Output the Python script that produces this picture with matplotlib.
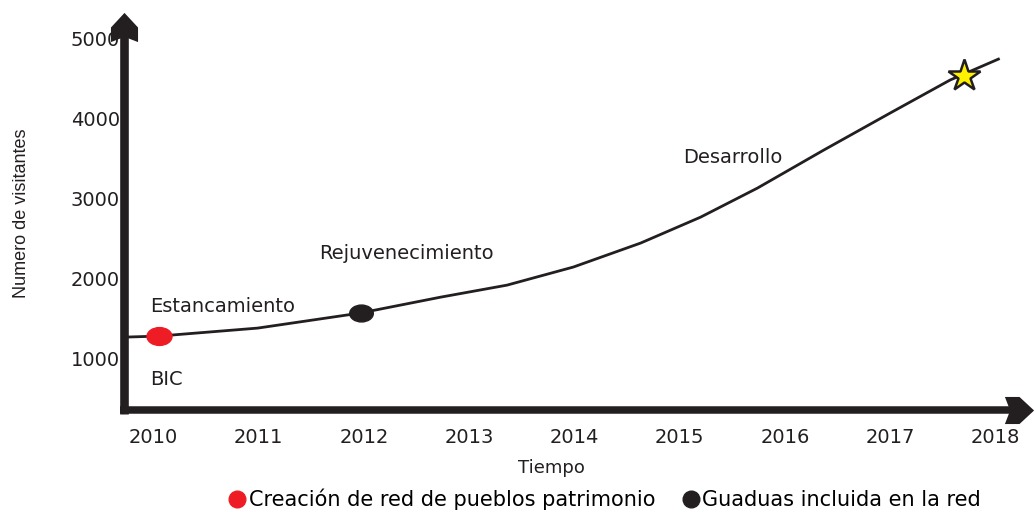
import numpy as np
import matplotlib.pyplot as plt
from matplotlib.lines import Line2D
from matplotlib.path import Path
from matplotlib.transforms import Affine2D

plt.rcParams['font.family'] = ['DejaVu Sans']

# curve
years = [2009.72, 2010.05, 2010.99, 2011.96, 2012.73, 2013.36, 2013.99,
         2014.63, 2015.20, 2015.74, 2016.37, 2017.00, 2017.57, 2018.03]
visitors = [1262, 1275, 1375, 1562, 1762, 1912, 2138,
            2438, 2762, 3125, 3600, 4062, 4475, 4737]

red_point = (2010.05, 1275)
black_point = (2011.97, 1562)
star_point = (2017.70, 4530)

xticks = [2010, 2011, 2012, 2013, 2014, 2015, 2016, 2017, 2018]
yticks = [1000, 2000, 3000, 4000, 5000]

phases = ['Estancamiento', 'BIC', 'Rejuvenecimiento', 'Desarrollo']
phase_pos = [(2009.97, 1650), (2009.97, 737), (2011.57, 2312), (2015.03, 3512)]

legend_labels = ['Creación de red de pueblos patrimonio', 'Guaduas incluida en la red']
legend_colors = ['#ee1c25', '#231f20']
ink = '#231f20'

# flattened circle marker like the picture's dots
oval = Path.unit_circle().transformed(Affine2D().scale(1.4, 1.0))
# notched arrow head, pointing up
head_up = Path([(0, 14), (13, 0), (13, -14), (0, -9), (-13, -14), (-13, 0), (0, 14)],
               closed=True)
head_right = head_up.transformed(Affine2D().rotate_deg(-90))

fig = plt.figure(figsize=(10.36, 5.12), dpi=100)
ax = fig.add_axes([0.1197, 0.199, 0.8745, 0.772])
ax.set_xlim(2009.72, 2018.33)
ax.set_ylim(350, 5290)
for s in ax.spines.values():
    s.set_visible(False)

ax.plot(years, visitors, color=ink, lw=2, solid_joinstyle='round', zorder=3)
ax.plot(*red_point, marker=oval, ls='none', color=legend_colors[0], ms=18, zorder=4)
ax.plot(*black_point, marker=oval, ls='none', color=legend_colors[1], ms=17, zorder=4)
ax.plot(*star_point, '*', color='#fff200', mec=ink, mew=1.8, ms=24, zorder=5)

# thick arrow axes
ax.plot([0, 0], [-0.009, 0.965], transform=ax.transAxes, color=ink, lw=6.2,
        solid_capstyle='butt', clip_on=False, zorder=6)
ax.plot([-0.0045, 0.985], [0, 0], transform=ax.transAxes, color=ink, lw=5.4,
        solid_capstyle='butt', clip_on=False, zorder=6)
ax.plot([0], [0.9696], marker=head_up, ms=21, color=ink, mew=0,
        transform=ax.transAxes, clip_on=False, zorder=7)
ax.plot([0.988], [0], marker=head_right, ms=21, color=ink, mew=0,
        transform=ax.transAxes, clip_on=False, zorder=7)

ax.set_xticks(xticks)
ax.set_xticklabels([str(t) for t in xticks], fontsize=14, color=ink)
ax.set_yticks(yticks)
ax.set_yticklabels([str(t) for t in yticks], fontsize=14, color=ink)
ax.tick_params(axis='x', length=0, pad=13)
ax.tick_params(axis='y', length=0, pad=3)

for txt, (x, y) in zip(phases, phase_pos):
    ax.text(x, y, txt, fontsize=14, color=ink, ha='left', va='center')

fig.text(0.532, 0.086, 'Tiempo', fontsize=13, color=ink, ha='center', va='center')
fig.text(0.021, 0.584, 'Numero de visitantes', fontsize=13, color=ink,
         rotation=90, ha='center', va='center',
         family=['Liberation Sans Narrow', 'Liberation Sans'])

handles = [Line2D([], [], marker='o', ls='none', color=c, ms=12) for c in legend_colors]
fig.legend(handles, legend_labels, loc='center', bbox_to_anchor=(0.583, 0.025), ncol=2,
           frameon=False, fontsize=15, handletextpad=0.05, columnspacing=1.2,
           handlelength=1.0, borderaxespad=0)

fig.savefig('out.png', dpi=100)
